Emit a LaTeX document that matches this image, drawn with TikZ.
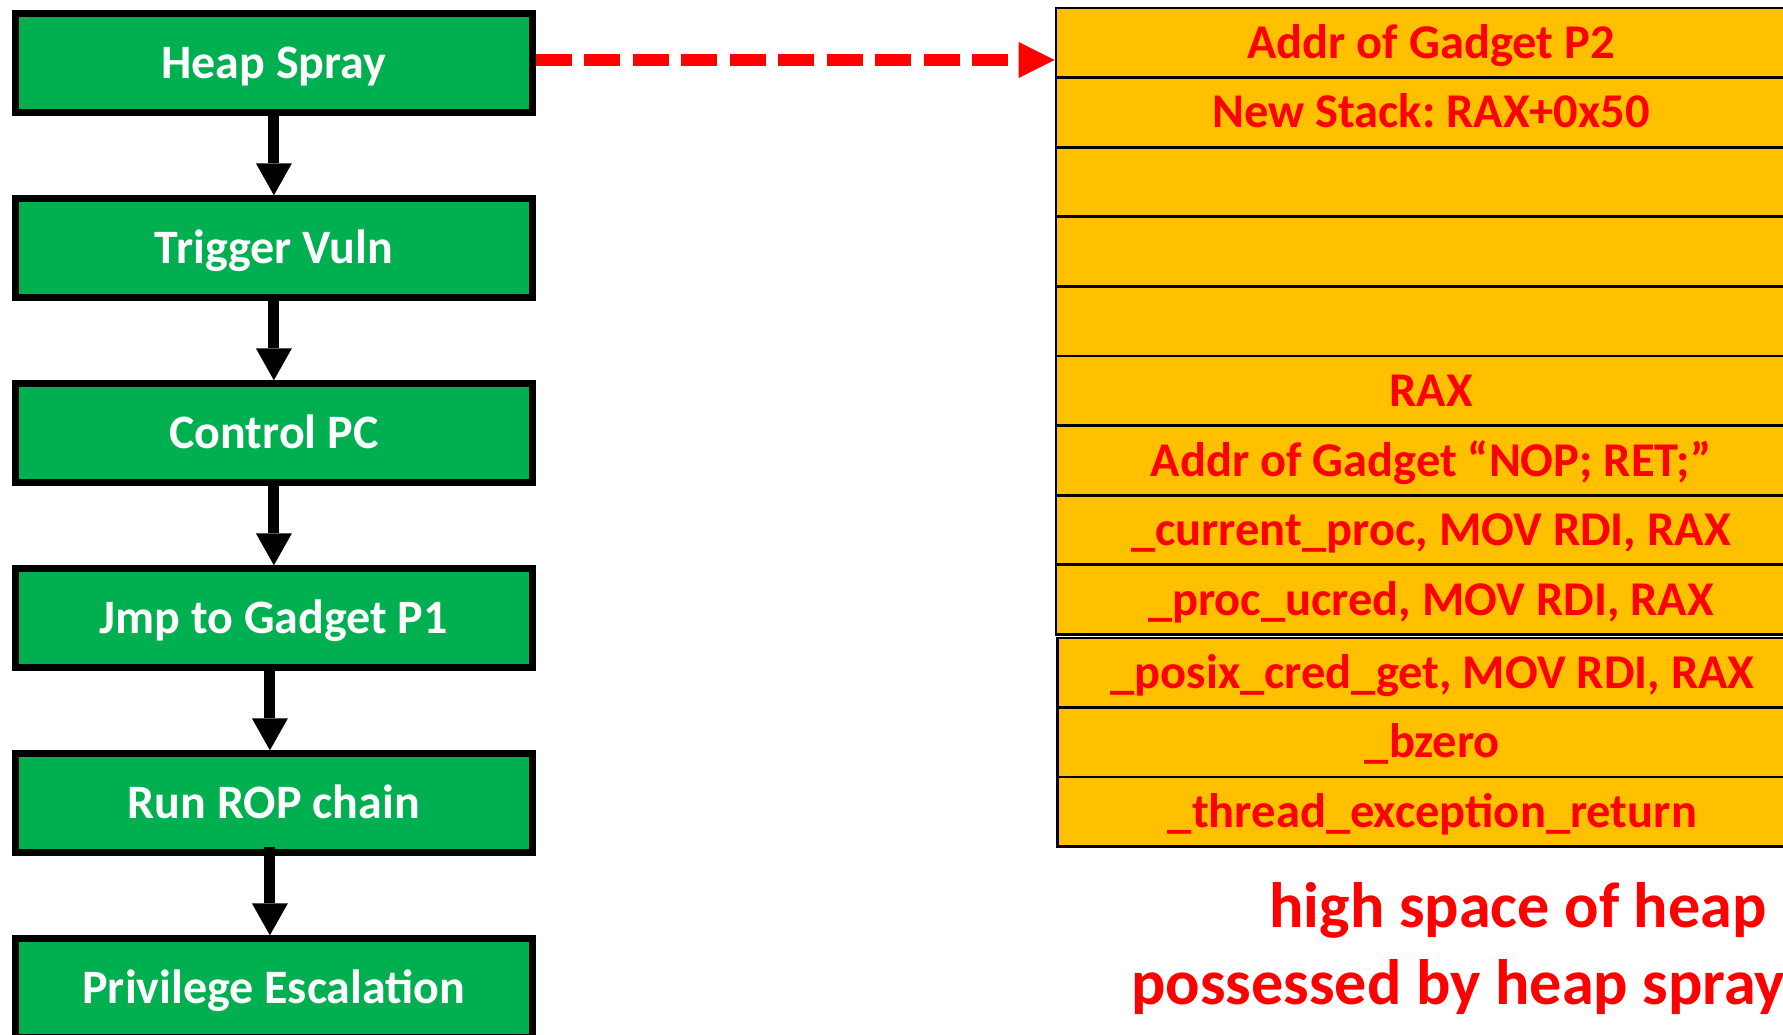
\documentclass[tikz,border=0pt]{standalone}
\usepackage{fontspec}
\setmainfont{Carlito}
\usetikzlibrary{arrows.meta}
\definecolor{stepgreen}{HTML}{00B050}
\definecolor{slotyellow}{HTML}{FFC000}
\definecolor{hotred}{HTML}{FF0000}
\frenchspacing
\begin{document}
\begin{tikzpicture}[x=1pt,y=-1pt,
  stepbox/.style={draw=black,fill=stepgreen,line width=7pt,
    minimum width=517pt,minimum height=99pt,inner sep=0pt,
    text=white,font=\bfseries\fontsize{48}{57}\selectfont,
    text height=30.9pt,text depth=0pt},
  slot/.style={draw=black,fill=slotyellow,line width=2.7pt,
    minimum width=750pt,minimum height=69.6pt,inner sep=0pt,
    text=hotred,font=\bfseries\fontsize{48.5}{58}\selectfont,
    text height=31.2pt,text depth=0pt},
  slotb/.style={slot,minimum height=69.5pt},
  flow/.style={draw=black,line width=11pt,
    -{Triangle[width=36pt,length=32pt,line width=0pt]}},
  sprayarrow/.style={draw=hotred,line width=12pt,
    dash pattern=on 36pt off 12.5pt,
    -{Triangle[width=36pt,length=36pt,line width=0pt]}},
  note/.style={inner sep=0pt,text=hotred,
    font=\bfseries\fontsize{64.2}{77}\selectfont},
]
\useasboundingbox (0,0) rectangle (1783,1035);
\clip (0,0) rectangle (1783,1035);
\fill[white] (0,0) rectangle (1783,1035);

% exploit steps
\node[stepbox] (n1) at (273.9,63.3)  {Heap Spray};
\node[stepbox] (n2) at (273.9,248.3) {Trigger Vuln};
\node[stepbox] (n3) at (273.9,433.3) {Control PC};
\node[stepbox] (n4) at (273.9,618.3) {Jmp to Gadget P1};
\node[stepbox] (n5) at (273.9,803.3) {Run ROP chain};
\node[stepbox] (n6) at (273.9,988.3) {Privilege Escalation};

% sprayed heap contents
\node[slot] (r1) at (1431,42.8)  {Addr of Gadget P2};
\node[slot] (r2) at (1431,112.4) {New Stack: RAX+0x50};
\node[slot] (r3) at (1431,182.0) {};
\node[slot] (r4) at (1431,251.6) {};
\node[slot] (r5) at (1431,321.2) {};
\node[slot] (r6) at (1431,390.8) {RAX};
\node[slot] (r7) at (1431,460.4) {Addr of Gadget “NOP; RET;”};
\node[slot] (r8) at (1431,530.0) {\_current\_proc, MOV RDI, RAX};
\node[slot] (r9) at (1431,599.6) {\_proc\_ucred, MOV RDI, RAX};
\node[slotb] (r10) at (1432.5,672.75) {\_posix\_cred\_get, MOV RDI, RAX};
\node[slotb] (r11) at (1432.5,742.25) {\_bzero};
\node[slotb] (r12) at (1432.5,811.75) {\_thread\_exception\_return};

% caption under the heap
\node[note,anchor=base east] (note1) at (1767,927) {high space of heap};
\node[note,anchor=base west] (note2) at (1131,1004) {possessed by heap spray};

% step arrows
\draw[flow] (n1.south) -- (n2.north);
\draw[flow] (n2.south) -- (n3.north);
\draw[flow] (n3.south) -- (n4.north);
\draw[flow] ([xshift=-4pt]n4.south) -- ([xshift=-4pt]n5.north);
\draw[flow] ([xshift=-4pt,yshift=9pt]n5.south) -- ([xshift=-4pt]n6.north);

% spray target
\draw[sprayarrow] ([yshift=3.3pt]n1.east) -- ([yshift=3.3pt]n1.east -| r1.west);
\end{tikzpicture}
\end{document}
